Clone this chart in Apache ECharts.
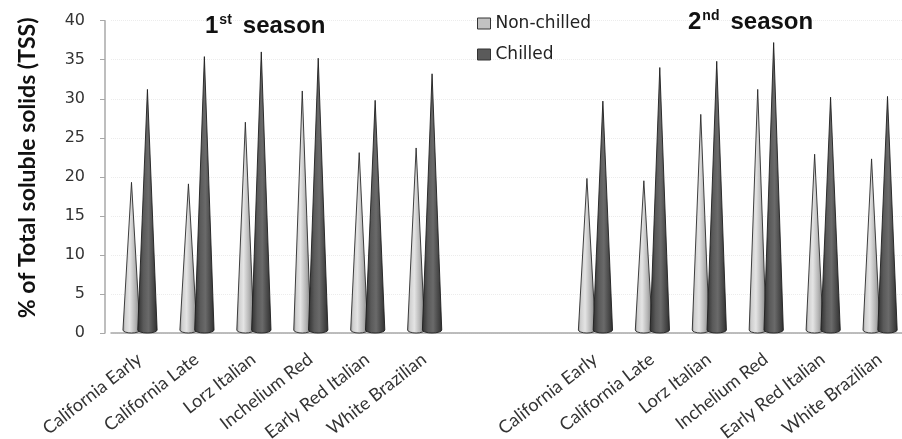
<!DOCTYPE html>
<html>
<head>
<meta charset="utf-8">
<script src="https://cdn.jsdelivr.net/npm/echarts@6/dist/echarts.min.js"></script>
<style>
  html, body { margin: 0; padding: 0; background: #fff; }
  #chart { width: 902px; height: 439px; }
</style>
</head>
<body>
<div id="chart"></div>
<script>
// Garlic cultivars across two seasons; two blank slots separate the seasons
const categories = [
  'California Early', 'California Late', 'Lorz Italian', 'Inchelium Red', 'Early Red Italian', 'White Brazilian',
  '', '',
  'California Early', 'California Late', 'Lorz Italian', 'Inchelium Red', 'Early Red Italian', 'White Brazilian'
];
const nonChilled = [19.3, 19.1, 27.0, 31.0, 23.1, 23.7, null, null, 19.8, 19.5, 28.0, 31.2, 22.9, 22.3];
const chilled    = [31.2, 35.4, 36.0, 35.2, 29.8, 33.2, null, null, 29.7, 34.0, 34.8, 37.2, 30.2, 30.3];
const yTicks = { min: 0, max: 40, interval: 5 };

const toPoints = arr => arr.map((v, i) => (v == null ? null : [i, v])).filter(Boolean);

// Cone glyph: apex at the value, elliptical base on the floor
function coneRenderer(shift, widthRatio, fill, edge) {
  return function (params, api) {
    const cat = api.value(0);
    const top = api.coord([cat, api.value(1)]);
    const base = api.coord([cat, 0]);
    const band = api.size([1, 0])[0];
    const w = band * widthRatio;
    const ry = 3;
    const cx = top[0] + band * shift;
    const yb = base[1] - ry;
    return {
      type: 'path',
      shape: {
        pathData: 'M' + cx + ',' + top[1] +
          ' L' + (cx + w / 2) + ',' + yb +
          ' A' + (w / 2) + ',' + ry + ' 0 0 1 ' + (cx - w / 2) + ',' + yb + ' Z',
        layout: 'cover'
      },
      style: { fill: fill, stroke: edge, lineWidth: 0.9 }
    };
  };
}

const lightFill = new echarts.graphic.LinearGradient(0, 0, 1, 0, [
  { offset: 0, color: '#8a8a8a' },
  { offset: 0.15, color: '#cfcfcf' },
  { offset: 0.4, color: '#e4e4e4' },
  { offset: 0.7, color: '#b6b6b6' },
  { offset: 1, color: '#7c7c7c' }
]);
const darkFill = new echarts.graphic.LinearGradient(0, 0, 1, 0, [
  { offset: 0, color: '#2e2e2e' },
  { offset: 0.3, color: '#5a5a5a' },
  { offset: 0.55, color: '#6a6a6a' },
  { offset: 1, color: '#2e2e2e' }
]);

const seasonRich = {
  n: { fontFamily: 'Liberation Sans', fontWeight: 'bold', fontSize: 24, color: '#111', verticalAlign: 'bottom', lineHeight: 26 },
  s: { fontFamily: 'Liberation Sans', fontWeight: 'bold', fontSize: 14, color: '#111', verticalAlign: 'top', lineHeight: 15, padding: [1, 11, 0, 1] }
};

const chart = echarts.init(document.getElementById('chart'));
chart.setOption({
  animation: false,
  backgroundColor: '#ffffff',
  title: [
    { text: '{n|1}{s|st}{n|season}', left: 200, top: 7, textStyle: { rich: seasonRich } },
    { text: '{n|2}{s|nd}{n|season}', left: 683, top: 3, textStyle: { rich: seasonRich } }
  ],
  legend: {
    orient: 'vertical',
    left: 472, top: 10,
    itemWidth: 13, itemHeight: 11, itemGap: 14,
    textStyle: { fontFamily: 'DejaVu Sans', fontSize: 17, color: '#222' },
    data: [
      { name: 'Non-chilled', icon: 'rect', itemStyle: { color: '#c2c2c2', borderColor: '#333', borderWidth: 1 } },
      { name: 'Chilled', icon: 'rect', itemStyle: { color: '#5a5a5a', borderColor: '#333', borderWidth: 1 } }
    ]
  },
  grid: { left: 111, right: -6, top: 20.7, bottom: 106, outerBoundsMode: 'none', containLabel: false },
  xAxis: {
    type: 'category',
    data: categories,
    boundaryGap: true,
    axisLine: { lineStyle: { color: '#a8a8a8', width: 1.5 } },
    axisTick: { show: false },
    axisLabel: {
      interval: 0, rotate: 38, margin: 24,
      fontFamily: 'Lato', fontSize: 18, color: '#333'
    },
    splitLine: { show: false }
  },
  yAxis: {
    type: 'value',
    min: yTicks.min, max: yTicks.max, interval: yTicks.interval,
    offset: 6,
    name: '% of Total soluble solids (TSS)',
    nameLocation: 'middle',
    nameGap: 66,
    nameTextStyle: { fontFamily: 'Lato', fontWeight: 'bold', fontSize: 23, color: '#111', padding: [0, 0, 0, 18] },
    axisLine: { show: true, lineStyle: { color: '#a8a8a8', width: 1.5 } },
    axisTick: { show: true, length: 5, lineStyle: { color: '#a8a8a8' } },
    axisLabel: { fontFamily: 'DejaVu Sans', fontSize: 16, color: '#333', margin: 20 },
    splitLine: { show: true, lineStyle: { color: '#ececec', type: 'dotted', width: 1 } }
  },
  series: [
    {
      name: 'Non-chilled',
      type: 'custom',
      renderItem: coneRenderer(-0.14, 0.3, lightFill, '#2a2a2a'),
      itemStyle: { color: '#c2c2c2' },
      encode: { x: 0, y: 1 },
      data: toPoints(nonChilled),
      z: 2
    },
    {
      name: 'Chilled',
      type: 'custom',
      renderItem: coneRenderer(0.14, 0.34, darkFill, '#1e1e1e'),
      itemStyle: { color: '#5a5a5a' },
      encode: { x: 0, y: 1 },
      data: toPoints(chilled),
      z: 3
    }
  ]
});
</script>
</body>
</html>
